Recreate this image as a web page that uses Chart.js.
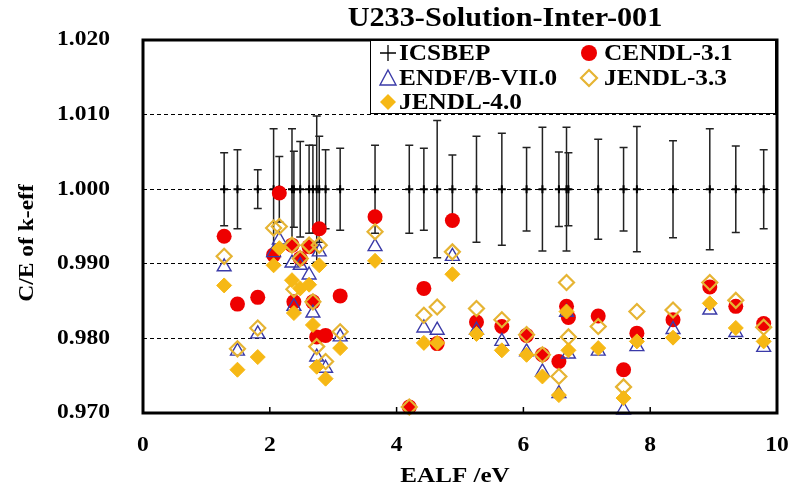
<!DOCTYPE html>
<html>
<head>
<meta charset="utf-8">
<script src="https://cdn.jsdelivr.net/npm/chart.js@4.4.0/dist/chart.umd.min.js"></script>
<style>
  html, body { margin: 0; padding: 0; background: #fff; }
</style>
</head>
<body>
<canvas id="myChart" width="799" height="491"></canvas>
<script>
// EALF of each case (eV)
ealf = [1.28, 1.49, 1.81, 2.06, 2.15, 2.35, 2.38, 2.48, 2.62, 2.68, 2.74,
        2.78, 2.88, 3.11, 3.66, 4.20, 4.43, 4.64, 4.88, 5.26, 5.66, 6.05,
        6.30, 6.56, 6.68, 6.71, 7.18, 7.58, 7.79, 8.36, 8.94, 9.35, 9.79];

// benchmark uncertainty, drawn as error bars around C/E = 1
icsbepErr = [0.0049, 0.0053, 0.0026, 0.0081, 0.0044, 0.0081, 0.0051, 0.0064, 0.0059, 0.0059, 0.0098,
             0.0071, 0.0053, 0.0055, 0.0059, 0.0059, 0.0055, 0.0092, 0.0046, 0.0071, 0.0075, 0.0056,
             0.0083, 0.0050, 0.0083, 0.0049, 0.0067, 0.0056, 0.0084, 0.0065, 0.0081, 0.0058, 0.0053];

// C/E for each library
cendl31 = [0.9937, 0.9846, 0.9855, 0.9912, 0.9995, 0.9925, 0.9849, 0.9907, 0.9923, 0.9849, 0.9802,
           0.9947, 0.9804, 0.9857, 0.9963, 0.9708, 0.9867, 0.9793, 0.9958, 0.9822, 0.9816, 0.9804,
           0.9778, 0.9769, 0.9843, 0.9828, 0.9830, 0.9758, 0.9807, 0.9825, 0.9869, 0.9843, 0.9820];
endfb70 = [0.9896, 0.9783, 0.9806, 0.9915, 0.9932, 0.9901, 0.9843, 0.9898, 0.9885, 0.9834, 0.9775,
           0.9916, 0.9760, 0.9802, 0.9923, null,   0.9814, 0.9811, 0.9910, 0.9811, 0.9796, 0.9782,
           0.9755, 0.9726, 0.9835, 0.9779, 0.9783, 0.9704, 0.9789, 0.9812, 0.9838, 0.9808, 0.9788];
jendl33 = [0.9910, 0.9786, 0.9814, 0.9948, 0.9950, 0.9925, 0.9866, 0.9907, 0.9925, 0.9849, 0.9789,
           0.9925, 0.9769, 0.9809, 0.9943, 0.9708, 0.9831, 0.9842, 0.9916, 0.9840, 0.9825, 0.9805,
           0.9778, 0.9749, 0.9875, 0.9802, 0.9816, 0.9735, 0.9836, 0.9838, 0.9875, 0.9851, 0.9815];
jendl40 = [0.9871, 0.9758, 0.9775, 0.9898, 0.9921, 0.9878, 0.9834, 0.9867, 0.9872, 0.9818, 0.9762,
           0.9898, 0.9746, 0.9787, 0.9904, null,   0.9794, 0.9794, 0.9886, 0.9806, 0.9784, 0.9778,
           0.9749, 0.9724, 0.9836, 0.9784, 0.9787, 0.9720, 0.9796, 0.9801, 0.9847, 0.9814, 0.9796];

yTicks = [0.970, 0.980, 0.990, 1.000, 1.010, 1.020];
xTicks = [0, 2, 4, 6, 8, 10];

function toPoints(vals) {
  return ealf.map((x, i) => ({x: x, y: vals[i]}));
}

// wide bold serif text, like the rest of the figure
function drawText(ctx, text, x, y, align, size, stretch, rot) {
  ctx.save();
  ctx.translate(x, y);
  if (rot) ctx.rotate(rot);
  ctx.scale(stretch, 1);
  ctx.font = 'bold ' + size + 'px "Liberation Serif", "Times New Roman", serif';
  ctx.fillStyle = '#000';
  ctx.textAlign = align;
  ctx.textBaseline = 'middle';
  ctx.fillText(text, 0, 0);
  ctx.restore();
}

function marker(ctx, type, x, y) {
  ctx.save();
  ctx.beginPath();
  if (type == 'plus') {
    ctx.strokeStyle = '#000'; ctx.lineWidth = 1.3;
    ctx.moveTo(x - 8, y); ctx.lineTo(x + 8, y);
    ctx.moveTo(x, y - 8); ctx.lineTo(x, y + 8);
    ctx.stroke();
  } else if (type == 'circle') {
    ctx.fillStyle = '#ee0000';
    ctx.arc(x, y, 8, 0, Math.PI * 2);
    ctx.fill();
  } else if (type == 'triangle') {
    ctx.strokeStyle = '#3a3aa8'; ctx.lineWidth = 1.4;
    ctx.moveTo(x, y - 8); ctx.lineTo(x + 8, y + 7); ctx.lineTo(x - 8, y + 7);
    ctx.closePath(); ctx.stroke();
  } else {
    ctx.moveTo(x - 8, y); ctx.lineTo(x, y - 8); ctx.lineTo(x + 8, y); ctx.lineTo(x, y + 8);
    ctx.closePath();
    if (type == 'diamondOpen') {
      ctx.strokeStyle = '#e6b433'; ctx.lineWidth = 2.2; ctx.stroke();
    } else {
      ctx.fillStyle = '#f6b815'; ctx.fill();
    }
  }
  ctx.restore();
}

const frame = {
  id: 'frame',
  beforeDatasetsDraw(chart) {
    const ctx = chart.ctx;
    const xs = chart.scales.x, ys = chart.scales.y;
    // error bars of the benchmark values
    ctx.save();
    ctx.strokeStyle = '#222';
    ctx.lineWidth = 1.5;
    for (i = 0; i < ealf.length; i++) {
      const px = xs.getPixelForValue(ealf[i]);
      const top = ys.getPixelForValue(1 + icsbepErr[i]);
      const bot = ys.getPixelForValue(1 - icsbepErr[i]);
      ctx.beginPath();
      ctx.moveTo(px, top); ctx.lineTo(px, bot);
      ctx.moveTo(px - 4, top); ctx.lineTo(px + 4, top);
      ctx.moveTo(px - 4, bot); ctx.lineTo(px + 4, bot);
      ctx.stroke();
    }
    ctx.restore();
  },
  afterDatasetsDraw(chart) {
    const ctx = chart.ctx;
    const a = chart.chartArea;
    const xs = chart.scales.x, ys = chart.scales.y;

    // plot frame and inner x ticks
    ctx.save();
    ctx.strokeStyle = '#000';
    ctx.lineWidth = 1.5;
    xTicks.slice(1, -1).forEach(v => {
      const px = xs.getPixelForValue(v);
      ctx.beginPath(); ctx.moveTo(px, a.bottom); ctx.lineTo(px, a.bottom - 6); ctx.stroke();
    });
    ctx.lineWidth = 3;
    ctx.strokeRect(a.left, a.top, a.right - a.left, a.bottom - a.top);
    ctx.restore();

    // legend box
    const lx = 370, ly = a.top, lw = a.right - 2 - lx, lh = 73;
    ctx.save();
    ctx.fillStyle = '#fff';
    ctx.fillRect(lx, ly, lw, lh);
    ctx.strokeStyle = '#000';
    ctx.lineWidth = 1;
    ctx.strokeRect(lx + 0.5, ly + 0.5, lw, lh);
    ctx.restore();
    const items = [
      ['plus', 'ICSBEP', 388, 53], ['circle', 'CENDL-3.1', 589, 53],
      ['triangle', 'ENDF/B-VII.0', 388, 78], ['diamondOpen', 'JENDL-3.3', 589, 78],
      ['diamond', 'JENDL-4.0', 388, 102]
    ];
    items.forEach(it => {
      marker(ctx, it[0], it[2], it[3]);
      drawText(ctx, it[1], it[2] + (it[2] < 500 ? 11 : 15), it[3] + 1, 'left', 23, 1.1);
    });

    // tick labels and titles
    yTicks.forEach(v => drawText(ctx, v.toFixed(3), 110, ys.getPixelForValue(v), 'right', 21, 1.12));
    xTicks.forEach(v => drawText(ctx, String(v), xs.getPixelForValue(v), 446, 'center', 21, 1.12));
    drawText(ctx, 'U233-Solution-Inter-001', 505, 19, 'center', 27, 1.12);
    drawText(ctx, 'EALF /eV', 455, 476, 'center', 22, 1.14);
    drawText(ctx, 'C/E of k-eff', 28, 243, 'center', 21, 1.12, -Math.PI / 2);
  }
};

const data = {
  datasets: [
    {
      label: 'ICSBEP',
      data: toPoints(ealf.map(() => 1.0)),
      pointStyle: 'cross',
      pointRadius: 4,
      borderColor: '#000',
      borderWidth: 2,
      order: 5
    },
    {
      label: 'CENDL-3.1',
      data: toPoints(cendl31),
      pointStyle: 'circle',
      pointRadius: 7.5,
      backgroundColor: '#ee0000',
      borderColor: '#ee0000',
      borderWidth: 0,
      clip: false,
      order: 4
    },
    {
      label: 'ENDF/B-VII.0',
      data: toPoints(endfb70),
      pointStyle: 'triangle',
      pointRadius: 8,
      backgroundColor: 'rgba(0,0,0,0)',
      borderColor: '#3a3aa8',
      borderWidth: 1.4,
      clip: false,
      order: 3
    },
    {
      label: 'JENDL-3.3',
      data: toPoints(jendl33),
      pointStyle: 'rectRot',
      pointRadius: 7.5,
      backgroundColor: 'rgba(0,0,0,0)',
      borderColor: '#e6b433',
      borderWidth: 2.2,
      clip: false,
      order: 2
    },
    {
      label: 'JENDL-4.0',
      data: toPoints(jendl40),
      pointStyle: 'rectRot',
      pointRadius: 7.5,
      backgroundColor: '#f6b815',
      borderColor: '#f6b815',
      borderWidth: 1,
      clip: false,
      order: 1
    }
  ]
};

const config = {
  type: 'scatter',
  data: data,
  options: {
    responsive: false,
    animation: false,
    events: [],
    layout: { padding: { left: 143, right: 22, top: 40, bottom: 78 } },
    plugins: {
      legend: { display: false },
      title: { display: false },
      tooltip: { enabled: false }
    },
    scales: {
      x: {
        type: 'linear', min: 0, max: 10,
        ticks: { display: false, stepSize: 2 },
        grid: { display: false, drawTicks: false },
        border: { display: false },
        afterFit: s => { s.height = 0; }
      },
      y: {
        min: 0.97, max: 1.02,
        ticks: { display: false, stepSize: 0.01 },
        grid: {
          drawTicks: false,
          lineWidth: 1,
          color: c => {
            v = c.tick ? c.tick.value : 0;
            return (Math.abs(v - 0.97) < 1e-6 || Math.abs(v - 1.02) < 1e-6) ? 'rgba(0,0,0,0)' : '#000';
          }
        },
        border: { display: false, dash: [4, 3] },
        afterFit: s => { s.width = 0; }
      }
    }
  },
  plugins: [frame]
};

const myChart = new Chart(document.getElementById('myChart'), config);
</script>
</body>
</html>
